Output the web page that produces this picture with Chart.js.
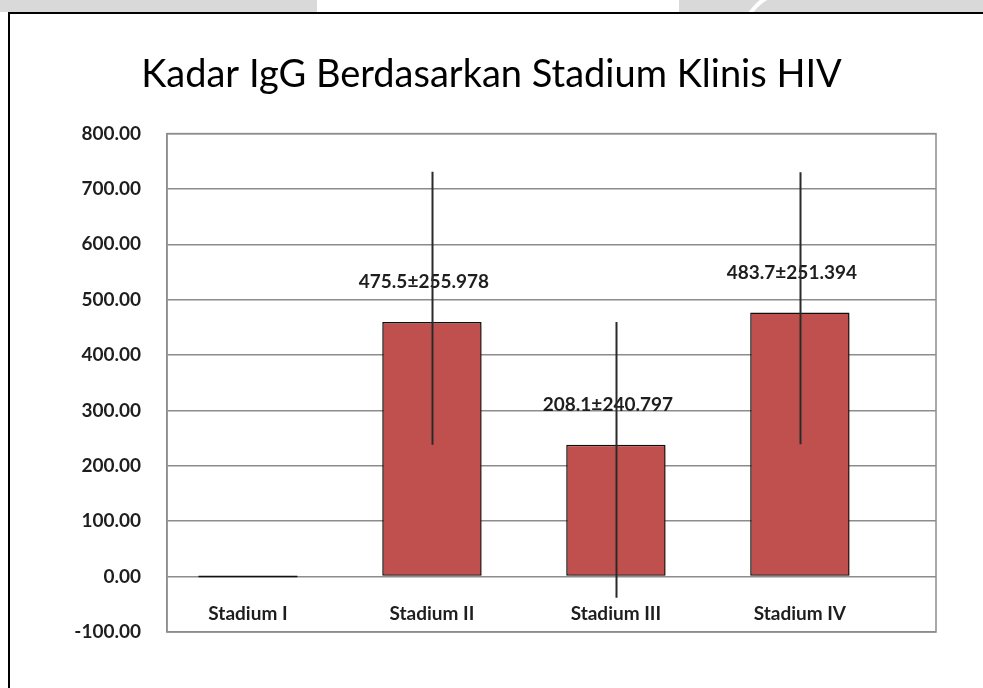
<!DOCTYPE html>
<html>
<head>
<meta charset="utf-8">
<script src="https://cdn.jsdelivr.net/npm/chart.js@4.4.1/dist/chart.umd.min.js"></script>
<style>
    html, body { margin: 0; padding: 0; background: #fff; }
    #wrap { width: 983px; height: 688px; }
</style>
</head>
<body>
<div id="wrap"><canvas id="chart"></canvas></div>
<script>
// data
const categories = ["Stadium I", "Stadium II", "Stadium III", "Stadium IV"];
const means = [0, 460, 238, 477];
const errLow = [null, 238, -38, 239];
const errHigh = [null, 731, 460, 730];
const valueLabels = ["", "475.5\u00b1255.978", "208.1\u00b1240.797", "483.7\u00b1251.394"];
const yTicks = { min: -100, max: 800, step: 100 };

const textColor = "#1e1e1e";
const gridColor = "#8c8c8c";
const barColor = "#c0504d";

// page frame: grey strip at the top and the black box round the chart
const framePlugin = {
    id: "frame",
    beforeDraw(chart) {
        const ctx = chart.ctx;
        ctx.save();
        ctx.fillStyle = "#ffffff";
        ctx.fillRect(0, 0, chart.width, chart.height);
        ctx.fillStyle = "#d9d9d9";
        ctx.fillRect(0, 0, 317, 12);
        ctx.fillRect(679, 0, chart.width - 679, 12);
        ctx.strokeStyle = "#ffffff";
        ctx.lineWidth = 4;
        ctx.beginPath();
        ctx.arc(790, 40, 48, Math.PI * 1.05, Math.PI * 1.45);
        ctx.stroke();
        ctx.strokeStyle = "#000000";
        ctx.lineWidth = 2;
        ctx.beginPath();
        ctx.moveTo(chart.width, 13);
        ctx.lineTo(9, 13);
        ctx.lineTo(9, chart.height);
        ctx.stroke();
        ctx.restore();
    },
    afterDraw(chart) {
        const { ctx, chartArea: a } = chart;
        ctx.save();
        ctx.strokeStyle = gridColor;
        ctx.lineWidth = 1.5;
        ctx.strokeRect(a.left, a.top, a.right - a.left, a.bottom - a.top);
        ctx.restore();
    },
};

const shadowPlugin = {
    id: "barShadow",
    beforeDatasetDraw(chart) {
        const ctx = chart.ctx;
        ctx.save();
        ctx.shadowColor = "rgba(140, 40, 40, 0.35)";
        ctx.shadowOffsetX = 3;
        ctx.shadowOffsetY = 4;
        ctx.shadowBlur = 4;
    },
    afterDatasetDraw(chart) {
        chart.ctx.restore();
    },
};

// value labels above the bars, then the error lines over them
const annotatePlugin = {
    id: "annotate",
    afterDatasetsDraw(chart) {
        const ctx = chart.ctx;
        const yScale = chart.scales.y;
        const bars = chart.getDatasetMeta(0).data;
        ctx.save();
        ctx.font = "bold 19px Lato";
        ctx.fillStyle = textColor;
        ctx.textAlign = "center";
        ctx.textBaseline = "middle";
        bars.forEach((bar, i) => {
            if (valueLabels[i]) {
                ctx.fillText(valueLabels[i], bar.x - 8, bar.y - 40);
            }
        });
        ctx.strokeStyle = "#2a2a2a";
        ctx.lineWidth = 2;
        bars.forEach((bar, i) => {
            if (errLow[i] === null) return;
            const x = Math.round(bar.x) + 0.5;
            ctx.beginPath();
            ctx.moveTo(x, yScale.getPixelForValue(errHigh[i]));
            ctx.lineTo(x, yScale.getPixelForValue(errLow[i]));
            ctx.stroke();
        });
        ctx.restore();
    },
};

new Chart(document.getElementById("chart"), {
    type: "bar",
    data: {
        datasets: [
            {
                data: categories.map((c, i) => ({ x: i, y: means[i] })),
                backgroundColor: barColor,
                borderColor: "#111111",
                borderWidth: 1.5,
                borderSkipped: false,
                minBarLength: 2,
                barPercentage: 0.54,
                categoryPercentage: 1,
            },
        ],
    },
    options: {
        responsive: true,
        maintainAspectRatio: false,
        animation: false,
        layout: { padding: { left: 47, right: 47, top: 0, bottom: 56 } },
        plugins: {
            legend: { display: false },
            tooltip: { enabled: false },
            title: {
                display: true,
                text: "Kadar IgG Berdasarkan Stadium Klinis HIV",
                color: "#000000",
                font: { family: "Lato", size: 38, weight: "normal" },
                padding: { top: 52, bottom: 36 },
            },
        },
        scales: {
            x: {
                type: "linear",
                position: { y: 0 },
                offset: false,
                min: -0.44,
                max: 3.74,
                grid: { display: false, offset: false },
                border: { display: false },
                ticks: {
                    stepSize: 1,
                    includeBounds: false,
                    autoSkip: false,
                    maxRotation: 0,
                    padding: 18,
                    color: textColor,
                    font: { family: "Lato", size: 19, weight: "bold" },
                    callback: (v) => categories[v] ?? "",
                },
            },
            y: {
                min: yTicks.min,
                max: yTicks.max,
                afterFit: (scale) => { scale.width = 120; },
                grid: { color: gridColor, lineWidth: 1.5, drawTicks: false },
                border: { color: gridColor, width: 1.5 },
                ticks: {
                    stepSize: yTicks.step,
                    padding: 26,
                    color: textColor,
                    font: { family: "Lato", size: 19, weight: "bold" },
                    callback: (v) => v.toFixed(2),
                },
            },
        },
    },
    plugins: [framePlugin, shadowPlugin, annotatePlugin],
});
</script>
</body>
</html>
